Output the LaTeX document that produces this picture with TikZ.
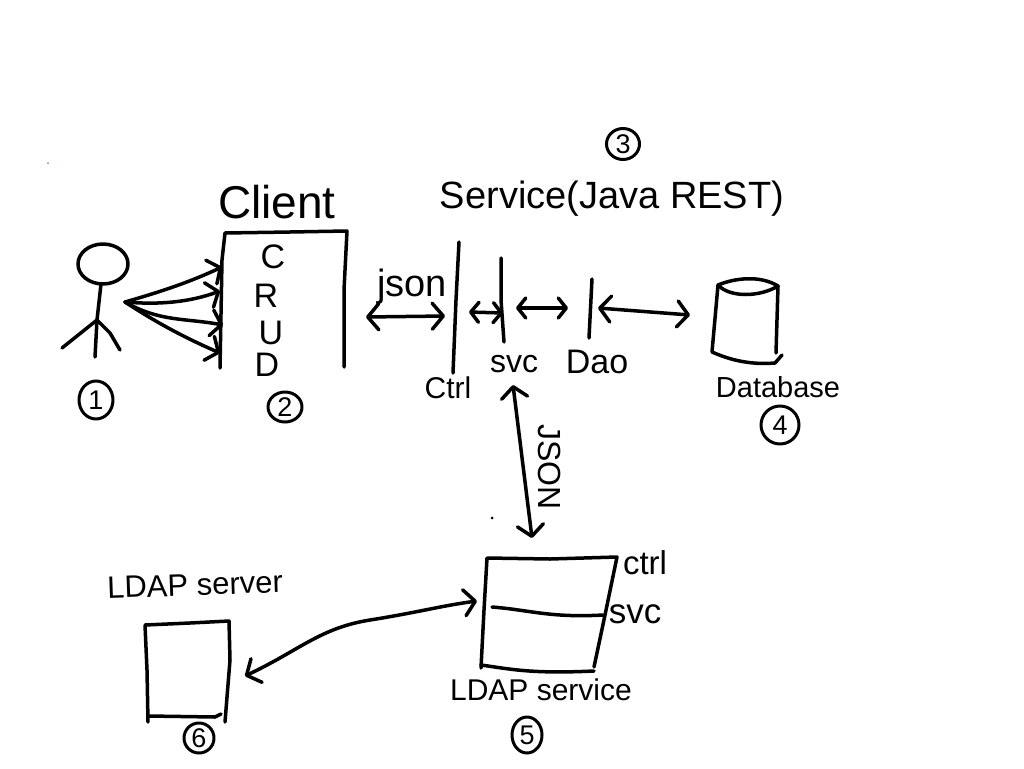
\documentclass[tikz,border=0pt]{standalone}
\usepackage{fontspec}
\setmainfont{Liberation Sans}
\usetikzlibrary{arrows.meta,shapes.geometric}
\newcommand{\fsz}[1]{\fontsize{#1}{#1}\selectfont}
\tikzset{
  ink/.style={line width=3.5pt,line cap=round,line join=round,black},
  duo/.style={ink,{Straight Barb[length=11pt,width=26pt,round]}-{Straight Barb[length=11pt,width=26pt,round]}},
  duos/.style={ink,{Straight Barb[length=8pt,width=20pt,round]}-{Straight Barb[length=8pt,width=20pt,round]}},
  one/.style={ink,-{Straight Barb[length=10pt,width=26pt,round]}},
  lbl/.style={inner sep=0pt,outer sep=0pt,text=black},
  big/.style={lbl,font=\fsz{38}},
  mid/.style={lbl,font=\fsz{34}},
  sml/.style={lbl,font=\fsz{30}},
  num/.style={ink,line width=3pt,ellipse,draw,inner sep=0pt,font=\fsz{27}},
}
\begin{document}
\begin{tikzpicture}[x=1pt,y=-1pt]
\path[use as bounding box,fill=white] (0,0) rectangle (1024,768);
% person
\draw[ink] (103,264) ellipse[x radius=25,y radius=20];
\draw[ink] (101,284) -- (97,320) -- (95,357);
\draw[ink] (62,348) -- (97,320) -- (110,333) -- (120,350);
\coordinate (hand) at (125,302);
% client box
\draw[ink] (220,368) -- (222,260) -- (225,233) -- (290,232) -- (347,231) -- (344,290) -- (344,367);
\coordinate (c1) at (222,267);
\coordinate (c2) at (220,291);
\coordinate (c3) at (223,325);
\coordinate (c4) at (220,353);
\draw[one] (hand) .. controls (160,292) and (190,282) .. (c1);
\draw[one] (hand) .. controls (160,305) and (190,302) .. (c2);
\draw[one] (hand) .. controls (160,322) and (185,318) .. (c3);
\draw[one] (hand) .. controls (160,325) and (190,340) .. (c4);
% client text
\node[big,font=\fsz{46}] (client) at (277,202) {Client};
\node[mid] (tc) at (273,257) {C};
\node[mid] (tr) at (266,296) {R};
\node[mid] (tu) at (271,333) {U};
\node[mid] (td) at (267,365) {D};
\node[num,minimum width=34pt,minimum height=38pt] (n1) at (96,400) {1};
\node[num,minimum width=34pt,minimum height=30pt] (n2) at (285,407) {2};
% json
\coordinate (ja) at (366,317);
\coordinate (jb) at (445,316);
\draw[duo] (ja) -- (jb);
\node[mid,font=\fsz{38}] (json) at (412,287) {json};
% service layers
\draw[ink] (459,242) -- (456,300) -- (453,373);
\draw[ink] (501,258) -- (501,300) -- (504,342);
\draw[ink] (592,279) -- (589,338);
\coordinate (ctrlr) at (469,312);
\coordinate (svcl) at (503,313);
\coordinate (svcr) at (516,308);
\coordinate (daol) at (568,308);
\coordinate (daor) at (598,308);
\coordinate (dbl) at (690,315);
\draw[duos] (ctrlr) -- (svcl);
\draw[duos] (svcr) -- (daol);
\draw[duo] (daor) -- (dbl);
\node[big] (service) at (612,199) {Service(Java REST)};
\node[num,minimum width=33pt,minimum height=31pt] (n3) at (623,144) {3};
\node[sml] (ctrl) at (448,388) {Ctrl};
\node[sml,font=\fsz{32}] (svc) at (514,364) {svc};
\node[sml,font=\fsz{34}] (dao) at (597,362) {Dao};
% database
\draw[ink] (718,285) -- (712,352) .. controls (730,360) and (750,365) .. (775,363) -- (782,355);
\draw[ink] (778,286) -- (776,353);
\draw[ink] (718,285) .. controls (735,278) and (760,275) .. (778,286) .. controls (760,297) and (730,298) .. (718,285);
\node[sml,font=\fsz{29}] (db) at (778,387) {Database};
\node[num,minimum width=38pt,minimum height=38pt] (n4) at (780,425) {4};
% vertical
\coordinate (vt) at (513,385);
\coordinate (vb) at (532,538);
\draw[duo] (vt) -- (vb);
\node[sml,font=\fsz{32},rotate=-90] (vjson) at (550,467) {JSON};
% LDAP service
\draw[ink] (481,668) -- (484,610) -- (487,558) -- (550,559) -- (617,557) -- (605,615) -- (594,667);
\draw[ink] (481,665) .. controls (510,669) and (530,674) .. (594,671);
\draw[ink] (492,607) .. controls (530,610) and (550,618) .. (603,615);
\node[sml,font=\fsz{33}] (lctrl) at (645,563) {ctrl};
\node[sml,font=\fsz{35}] (lsvc) at (635,614) {svc};
\node[sml] (lserv) at (541,690) {LDAP service};
\node[num,minimum width=30pt,minimum height=36pt] (n5) at (527,735) {5};
% LDAP server
\draw[ink] (148,722) -- (147,670) -- (145,625) -- (190,623) -- (229,621) -- (230,660) -- (225,722);
\draw[ink] (148,716) -- (215,717) -- (221,714);
\node[big,font=\fsz{31},rotate=2] (lserver) at (195,585) {LDAP server};
\node[num,minimum width=30pt,minimum height=30pt] (n6) at (199,738) {6};
\coordinate (srv) at (245,676);
\coordinate (svcin) at (477,601);
\draw[duo] (srv) .. controls (300,650) and (320,628) .. (370,620) .. controls (420,612) and (440,606) .. (svcin);
% specks
\fill[black] (492,518) circle[radius=1.5];
\fill[green!50!gray] (48,163) circle[radius=1];
\end{tikzpicture}
\end{document}
